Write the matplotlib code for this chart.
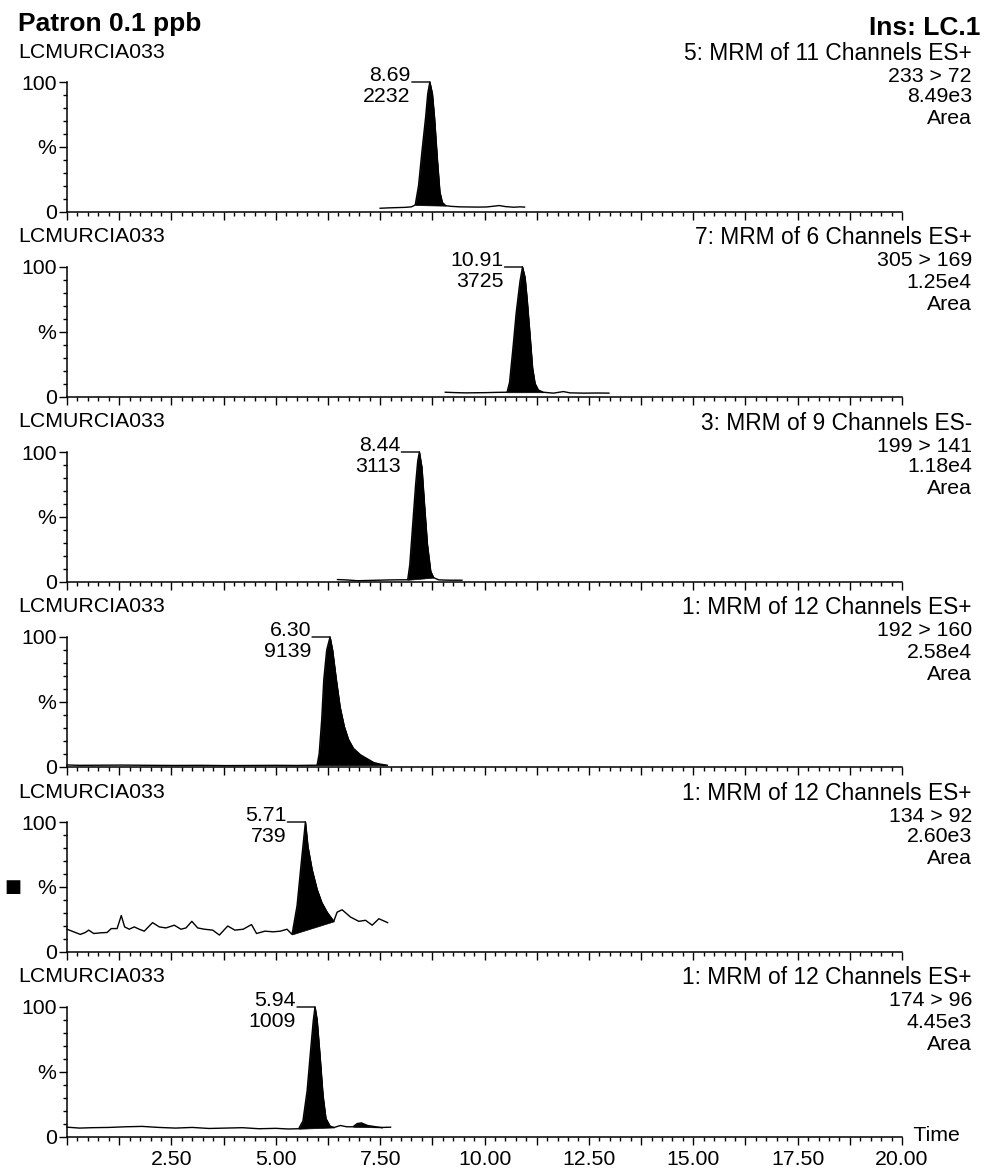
import numpy as np
import matplotlib
matplotlib.use("Agg")
import matplotlib.pyplot as plt
from matplotlib.ticker import MultipleLocator, FixedLocator, FuncFormatter

plt.rcParams['font.family'] = ['Liberation Sans', 'DejaVu Sans']

W, H = 984, 1174

# ---- chromatogram traces (time in min, intensity in %) ----
t1 = [7.50, 7.70, 7.90, 8.10, 8.25, 8.34, 8.42, 8.50, 8.59, 8.64, 8.69, 8.75, 8.80, 8.87,
      8.93, 8.99, 9.07, 9.19, 9.40, 9.60, 9.85, 10.05, 10.25, 10.35, 10.50, 10.70, 10.85, 10.96]
y1 = [2.5, 2.8, 3.0, 3.2, 3.6, 5.0, 20, 46, 73, 91, 100, 91, 73, 40,
      15, 7, 4.5, 4.0, 3.6, 3.5, 3.4, 3.5, 4.2, 4.6, 3.8, 3.3, 3.6, 3.4]

t2 = [9.06, 9.30, 9.55, 9.80, 10.05, 10.30, 10.54, 10.60, 10.68, 10.76, 10.85, 10.91, 10.97,
      11.02, 11.09, 11.15, 11.21, 11.29, 11.41, 11.65, 11.89, 12.05, 12.38, 12.70, 12.98]
y2 = [3.3, 3.0, 2.8, 2.9, 3.0, 3.2, 3.3, 11, 37, 65, 89, 100, 92,
      75, 47, 22, 10, 5, 3.3, 2.6, 3.8, 2.8, 2.6, 2.7, 2.6]

t3 = [6.48, 6.70, 6.96, 7.20, 7.45, 7.70, 7.95, 8.16, 8.21, 8.28, 8.35, 8.40, 8.44, 8.50,
      8.56, 8.63, 8.71, 8.78, 8.90, 9.05, 9.22, 9.46]
y3 = [1.5, 1.2, 0.6, 0.8, 1.0, 1.2, 1.3, 1.3, 13, 44, 75, 93, 100, 88,
      60, 29, 8, 3, 1.3, 1.1, 1.0, 1.0]

t4 = [0.0, 0.3, 0.8, 1.3, 2.0, 2.6, 3.2, 3.8, 4.4, 5.0, 5.5, 5.99, 6.04, 6.10, 6.15, 6.22,
      6.30, 6.36, 6.45, 6.54, 6.64, 6.74, 6.86, 7.03, 7.19, 7.35, 7.51, 7.67]
y4 = [1.2, 0.9, 1.0, 1.1, 0.9, 0.8, 0.9, 0.7, 0.8, 0.9, 0.8, 1.0, 10, 36, 67, 90,
      100, 90, 67, 46, 31, 21, 14, 9, 6, 3, 1.8, 1.0]

t5 = [0.00, 0.12, 0.32, 0.44, 0.52, 0.64, 0.80, 0.96, 1.06, 1.20, 1.30, 1.38, 1.49, 1.61,
      1.73, 1.85, 2.05, 2.21, 2.37, 2.57, 2.73, 2.85, 2.99, 3.13, 3.29, 3.49, 3.65, 3.85,
      4.02, 4.22, 4.42, 4.54, 4.74, 4.94, 5.11, 5.27, 5.39, 5.51, 5.61, 5.71, 5.77, 5.87,
      5.99, 6.10, 6.23, 6.39, 6.47, 6.59, 6.79, 6.99, 7.15, 7.31, 7.47, 7.68]
y5 = [17.2, 15.7, 13.2, 14.7, 16.5, 13.9, 14.4, 14.7, 17.7, 17.7, 27.8, 19.0, 17.2, 19.0,
      17.2, 15.7, 22.3, 19.0, 18.2, 20.3, 17.2, 18.2, 23.3, 18.2, 17.2, 16.5, 12.7, 19.7,
      16.5, 17.2, 20.8, 13.9, 15.7, 15.2, 15.7, 17.2, 13.2, 35.4, 68.4, 100, 81, 63.3,
      48, 38, 30.4, 23.3, 30.4, 32.2, 26.6, 23.3, 24.1, 20.3, 25.3, 22.3]

t6 = [0.0, 0.3, 0.6, 1.0, 1.4, 1.8, 2.2, 2.6, 3.0, 3.4, 3.8, 4.2, 4.6, 5.0, 5.3, 5.55,
      5.65, 5.75, 5.83, 5.90, 5.94, 5.99, 6.06, 6.13, 6.20, 6.30, 6.40, 6.55, 6.70, 6.85,
      6.95, 7.05, 7.20, 7.40, 7.55, 7.75]
y6 = [7.2, 6.5, 6.8, 7.0, 7.5, 7.8, 7.0, 6.5, 7.0, 6.2, 6.5, 6.8, 6.0, 6.3, 5.8, 6.0,
      12, 35, 65, 90, 100, 90, 62, 32, 14, 8, 7, 8.5, 7.5, 7.5,
      10, 10.5, 8.5, 7.5, 7.0, 7.2]

# integrated (filled) peak windows
windows = [[(8.34, 9.07)], [(10.54, 11.41)], [(8.16, 8.78)],
           [(5.99, 7.67)], [(5.39, 6.39)], [(5.55, 6.40), (6.85, 7.55)]]

# labels
functions = ["5: MRM of 11 Channels ES+", "7: MRM of 6 Channels ES+", "3: MRM of 9 Channels ES-",
             "1: MRM of 12 Channels ES+", "1: MRM of 12 Channels ES+", "1: MRM of 12 Channels ES+"]
transitions = ["233 > 72", "305 > 169", "199 > 141", "192 > 160", "134 > 92", "174 > 96"]
intensities = ["8.49e3", "1.25e4", "1.18e4", "2.58e4", "2.60e3", "4.45e3"]
rts = [8.69, 10.91, 8.44, 6.30, 5.71, 5.94]
areas = ["2232", "3725", "3113", "9139", "739", "1009"]
sample = "LCMURCIA033"

traces = [(t1, y1), (t2, y2), (t3, y3), (t4, y4), (t5, y5), (t6, y6)]


def fx(px):
    return px / W


def fy(py):
    return 1 - py / H


fig = plt.figure(figsize=(W / 100, H / 100), dpi=100)

fig.text(fx(18), fy(31), "Patron 0.1 ppb", fontsize=19, fontweight='bold', va='baseline')
fig.text(fx(980), fy(35), "Ins: LC.1", fontsize=19, fontweight='bold', va='baseline', ha='right')

FS = 15.3
left, right = 67, 902
ph = 129.5

for k, (t, y) in enumerate(traces):
    t = np.array(t)
    y = np.array(y)
    top = 82 + 185 * k
    ax = fig.add_axes([fx(left), fy(top + ph), (right - left) / W, ph / H])

    ax.plot(t, y, color='black', lw=1.0, clip_on=False)
    for a, b in windows[k]:
        m = (t >= a - 1e-9) & (t <= b + 1e-9)
        ya = y[np.argmin(abs(t - a))]
        yb = y[np.argmin(abs(t - b))]
        base = np.interp(t[m], [a, b], [ya, yb])
        ax.fill_between(t[m], base, y[m], color='black', lw=0.5, clip_on=False)

    ax.set_xlim(0, 20)
    ax.set_ylim(0, 100)
    for s in ['top', 'right']:
        ax.spines[s].set_visible(False)
    for s in ['left', 'bottom']:
        ax.spines[s].set_linewidth(1.1)

    ax.xaxis.set_major_locator(MultipleLocator(1.25))
    ax.xaxis.set_minor_locator(MultipleLocator(0.25))
    ax.yaxis.set_major_locator(FixedLocator([0, 50, 100]))
    ax.yaxis.set_minor_locator(MultipleLocator(10))
    ax.set_yticklabels(['0', '%', '100'])
    ax.tick_params(axis='both', which='major', direction='out', length=6, width=1, labelsize=FS)
    ax.tick_params(axis='both', which='minor', direction='out', length=3.2, width=1)
    ax.tick_params(axis='y', pad=1.5)
    ax.tick_params(axis='x', pad=4)

    if k < 5:
        ax.tick_params(axis='x', labelbottom=False)
    else:
        def fmt(v, pos):
            if v > 0 and abs(v / 2.5 - round(v / 2.5)) < 1e-6:
                return "%.2f" % v
            return ""
        ax.xaxis.set_major_formatter(FuncFormatter(fmt))
        ax.text(20, 1, "  Time", fontsize=FS, va='center', ha='left', transform=ax.transData)

    if k == 4:
        ax.text(-0.075, 0.5, "\u25a0", fontsize=13, va='center', ha='left', transform=ax.transAxes,
                family=['DejaVu Sans'])

    # peak annotation
    ax.annotate(f"{rts[k]:.2f}", xy=(rts[k], 100), xytext=(-19, 1), textcoords='offset pixels',
                ha='right', va='baseline', fontsize=FS, annotation_clip=False)
    ax.annotate(areas[k], xy=(rts[k], 100), xytext=(-19, -5), textcoords='offset pixels',
                ha='right', va='top', fontsize=FS, annotation_clip=False)
    ax.annotate("", xy=(rts[k], 100), xytext=(-18, 0), textcoords='offset pixels',
                arrowprops=dict(arrowstyle='-', lw=1, shrinkA=0, shrinkB=0), annotation_clip=False)

    # text above/right of panel
    fig.text(fx(18), fy(top - 30), sample, fontsize=FS, va='center', ha='left')
    fig.text(fx(972), fy(top - 29), functions[k], fontsize=16.4, va='center', ha='right')
    fig.text(fx(972), fy(top - 6), transitions[k], fontsize=FS, va='center', ha='right')
    fig.text(fx(972), fy(top + 15), intensities[k], fontsize=FS, va='center', ha='right')
    fig.text(fx(972), fy(top + 37), "Area", fontsize=FS, va='center', ha='right')

fig.savefig("out.png", dpi=100)
